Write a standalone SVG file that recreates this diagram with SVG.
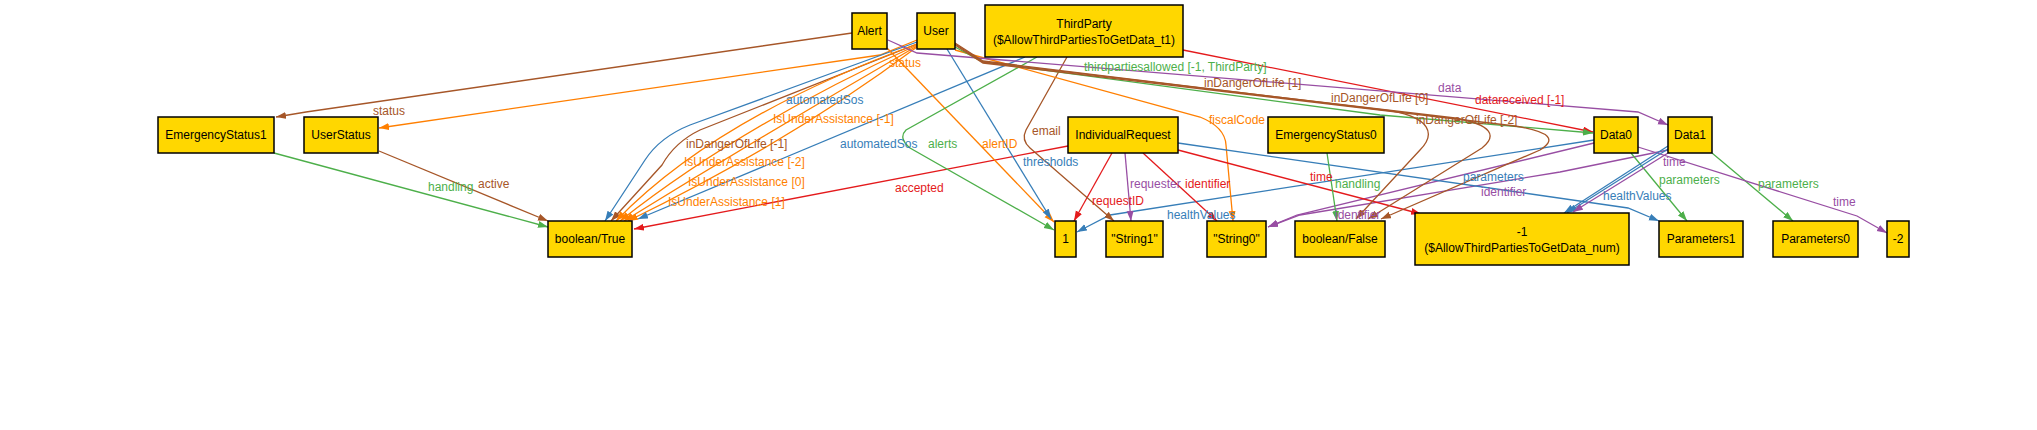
<svg xmlns="http://www.w3.org/2000/svg" width="2037" height="430" viewBox="0 0 2037 430">
<style>
.n rect{fill:#FFD700;stroke:#000;stroke-width:1.5}
.n text{font-family:"Liberation Sans",Arial,sans-serif;font-size:12px;fill:#000;text-anchor:middle}
.e path{fill:none;stroke-width:1.3}
.l text{font-family:"Liberation Sans",Arial,sans-serif;font-size:12px}
.red{stroke:#E41A1C;marker-end:url(#ar)}
.blue{stroke:#377EB8;marker-end:url(#ab)}
.green{stroke:#4DAF4A;marker-end:url(#ag)}
.purple{stroke:#984EA3;marker-end:url(#ap)}
.orange{stroke:#FF7F00;marker-end:url(#ao)}
.brown{stroke:#A65628;marker-end:url(#an)}
.tr{fill:#E41A1C}.tb{fill:#377EB8}.tg{fill:#4DAF4A}.tp{fill:#984EA3}.to{fill:#FF7F00}.tn{fill:#A65628}
</style>
<defs>
<marker id="ar" markerUnits="userSpaceOnUse" markerWidth="11" markerHeight="8" refX="10" refY="3.5" orient="auto"><path d="M0,0 L10,3.5 L0,7 z" fill="#E41A1C"/></marker>
<marker id="ab" markerUnits="userSpaceOnUse" markerWidth="11" markerHeight="8" refX="10" refY="3.5" orient="auto"><path d="M0,0 L10,3.5 L0,7 z" fill="#377EB8"/></marker>
<marker id="ag" markerUnits="userSpaceOnUse" markerWidth="11" markerHeight="8" refX="10" refY="3.5" orient="auto"><path d="M0,0 L10,3.5 L0,7 z" fill="#4DAF4A"/></marker>
<marker id="ap" markerUnits="userSpaceOnUse" markerWidth="11" markerHeight="8" refX="10" refY="3.5" orient="auto"><path d="M0,0 L10,3.5 L0,7 z" fill="#984EA3"/></marker>
<marker id="ao" markerUnits="userSpaceOnUse" markerWidth="11" markerHeight="8" refX="10" refY="3.5" orient="auto"><path d="M0,0 L10,3.5 L0,7 z" fill="#FF7F00"/></marker>
<marker id="an" markerUnits="userSpaceOnUse" markerWidth="11" markerHeight="8" refX="10" refY="3.5" orient="auto"><path d="M0,0 L10,3.5 L0,7 z" fill="#A65628"/></marker>
</defs>
<rect width="2037" height="430" fill="#fff"/>
<g id="connectors" class="e">
<path class="brown" d="M852,33 L306,112 L276,117"/>
<path class="orange" d="M917,40 L880,55 L379,128"/>
<path class="green" d="M274,153 L548,227"/>
<path class="brown" d="M379,151 L548,221"/>
<path class="blue" d="M917,42 L690,125 Q660,137 645,160 L605,221"/>
<path class="brown" d="M917,44 L700,130 Q675,142 662,165 L611,221"/>
<path class="orange" d="M917,44 Q715,118 616,221"/>
<path class="orange" d="M917,45 Q740,126 620,221"/>
<path class="orange" d="M917,46 Q765,134 624,221"/>
<path class="orange" d="M917,47 Q790,142 628,221"/>
<path class="blue" d="M1025,57 L638,219"/>
<path class="red" d="M1068,146 L634,229"/>
<path class="orange" d="M887,48 L1054,222"/>
<path class="blue" d="M947,49 L1051,219"/>
<path class="green" d="M1037,57 L906,130 Q898,138 910,148 L1054,230"/>
<path class="red" d="M1112,153 L1074,221"/>
<path class="blue" d="M1594,140 L1110,215 L1077,232"/>
<path class="brown" d="M1067,57 L1026,130 Q1021,140 1030,148 L1114,221"/>
<path class="purple" d="M1125,153 L1131,221"/>
<path class="red" d="M1143,153 L1217,221"/>
<path class="orange" d="M955,50 L1200,117 Q1225,127 1226,145 L1233,221"/>
<path class="purple" d="M1594,143 L1297,215 L1268,227"/>
<path class="purple" d="M1668,150 L1560,172 L1300,215 L1268,227"/>
<path class="red" d="M1178,150 L1421,214"/>
<path class="blue" d="M1178,143 L1628,208 L1659,221"/>
<path class="green" d="M1327,153 L1337,221"/>
<path class="red" d="M1183,50 L1593,132"/>
<path class="purple" d="M888,40 L917,53 L1638,112 L1668,125"/>
<path class="green" d="M955,47 L983,62 L1380,115 L1593,133"/>
<path class="brown" d="M955,43 L983,61 L1392,111 C1430,118 1436,134 1420,150 L1356,219"/>
<path class="brown" d="M955,44 L983,62 L1455,118 C1493,125 1497,136 1482,148 L1368,219"/>
<path class="brown" d="M955,45 L983,63 L1515,126 C1552,132 1556,140 1540,150 L1381,219"/>
<path class="green" d="M1631,153 L1687,221"/>
<path class="green" d="M1712,153 L1793,221"/>
<path class="purple" d="M1638,147 L1857,216 L1887,233"/>
<path class="blue" d="M1668,146 L1564,213"/>
<path class="blue" d="M1668,149 L1567,213"/>
<path class="purple" d="M1668,153 L1573,212"/>
</g>
<g id="labels" class="l">
<text class="tn" x="373" y="115">status</text>
<text class="to" x="889" y="67">status</text>
<text class="tg" x="428" y="191">handling</text>
<text class="tn" x="478" y="188">active</text>
<text class="tb" x="786" y="104">automatedSos</text>
<text class="to" x="773" y="123">IsUnderAssistance [-1]</text>
<text class="tn" x="686" y="148">inDangerOfLife [-1]</text>
<text class="tb" x="840" y="148">automatedSos</text>
<text class="tg" x="928" y="148">alerts</text>
<text class="to" x="982" y="148">alertID</text>
<text class="to" x="684" y="166">IsUnderAssistance [-2]</text>
<text class="to" x="688" y="186">IsUnderAssistance [0]</text>
<text class="to" x="668" y="206">IsUnderAssistance [1]</text>
<text class="tr" x="895" y="192">accepted</text>
<text class="tn" x="1032" y="135">email</text>
<text class="tb" x="1023" y="166">thresholds</text>
<text class="tr" x="1092" y="205">requestID</text>
<text class="tp" x="1130" y="188">requester</text>
<text class="tr" x="1185" y="188">identifier</text>
<text class="tb" x="1167" y="219">healthValues</text>
<text class="to" x="1209" y="124">fiscalCode</text>
<text class="tg" x="1084" y="71">thirdpartiesallowed [-1, ThirdParty]</text>
<text class="tn" x="1204" y="87">inDangerOfLife [1]</text>
<text class="tn" x="1331" y="102">inDangerOfLife [0]</text>
<text class="tn" x="1416" y="124">inDangerOfLife [-2]</text>
<text class="tp" x="1438" y="92">data</text>
<text class="tr" x="1475" y="104">datareceived [-1]</text>
<text class="tr" x="1310" y="181">time</text>
<text class="tg" x="1335" y="188">handling</text>
<text class="tp" x="1335" y="219">identifier</text>
<text class="tb" x="1463" y="181">parameters</text>
<text class="tp" x="1481" y="196">identifier</text>
<text class="tb" x="1603" y="200">healthValues</text>
<text class="tp" x="1663" y="166">time</text>
<text class="tg" x="1659" y="184">parameters</text>
<text class="tg" x="1758" y="188">parameters</text>
<text class="tp" x="1833" y="206">time</text>
</g>
<g id="EmergencyStatus1" class="n"><rect x="158" y="117" width="116" height="36"/><text x="216" y="139">EmergencyStatus1</text></g>
<g id="UserStatus" class="n"><rect x="304" y="117" width="74" height="36"/><text x="341" y="139">UserStatus</text></g>
<g id="booleanTrue" class="n"><rect x="548" y="221" width="84" height="36"/><text x="590" y="243">boolean/True</text></g>
<g id="Alert" class="n"><rect x="852" y="13" width="35" height="36"/><text x="869.5" y="35">Alert</text></g>
<g id="User" class="n"><rect x="917" y="13" width="38" height="36"/><text x="936" y="35">User</text></g>
<g id="ThirdParty" class="n"><rect x="985" y="5" width="198" height="52"/><text x="1084" y="28">ThirdParty</text><text x="1084" y="44">($AllowThirdPartiesToGetData_t1)</text></g>
<g id="IndividualRequest" class="n"><rect x="1068" y="117" width="110" height="36"/><text x="1123" y="139">IndividualRequest</text></g>
<g id="n1" class="n"><rect x="1055" y="221" width="21" height="36"/><text x="1065.5" y="243">1</text></g>
<g id="String1" class="n"><rect x="1106" y="221" width="57" height="36"/><text x="1134.5" y="243">"String1"</text></g>
<g id="String0" class="n"><rect x="1207" y="221" width="59" height="36"/><text x="1236.5" y="243">"String0"</text></g>
<g id="EmergencyStatus0" class="n"><rect x="1268" y="117" width="116" height="36"/><text x="1326" y="139">EmergencyStatus0</text></g>
<g id="booleanFalse" class="n"><rect x="1295" y="221" width="90" height="36"/><text x="1340" y="243">boolean/False</text></g>
<g id="nMinus1" class="n"><rect x="1415" y="213" width="214" height="52"/><text x="1522" y="236">-1</text><text x="1522" y="252">($AllowThirdPartiesToGetData_num)</text></g>
<g id="Data0" class="n"><rect x="1594" y="117" width="44" height="36"/><text x="1616" y="139">Data0</text></g>
<g id="Data1" class="n"><rect x="1668" y="117" width="44" height="36"/><text x="1690" y="139">Data1</text></g>
<g id="Parameters1" class="n"><rect x="1659" y="221" width="84" height="36"/><text x="1701" y="243">Parameters1</text></g>
<g id="Parameters0" class="n"><rect x="1773" y="221" width="85" height="36"/><text x="1815.5" y="243">Parameters0</text></g>
<g id="nMinus2" class="n"><rect x="1887" y="221" width="22" height="36"/><text x="1898" y="243">-2</text></g>
</svg>
